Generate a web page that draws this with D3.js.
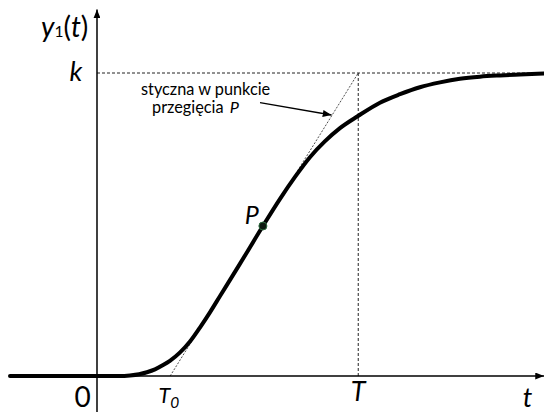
<!DOCTYPE html>
<html>
<head>
<meta charset="utf-8">
<script src="https://cdn.jsdelivr.net/npm/d3@7"></script>
<style>
  html, body { margin: 0; padding: 0; background: #fff; }
  svg { display: block; font-family: Lato, "Open Sans", sans-serif; }
</style>
</head>
<body>
<svg id="chart" width="544" height="412"></svg>
<script>
// Step response y1(t) of an inertial system with delay (time in arbitrary units, y normalised to k = 1)
const tVals = [-3.33, 0, 0.88, 1.26, 1.61, 1.91, 2.22, 2.53, 2.79, 3.18, 3.56, 3.94, 4.33, 4.71,
               5.47, 6.35, 7.00, 7.58, 8.15, 8.73, 9.30, 9.99, 10.83, 11.60, 12.36, 13.13,
               13.89, 14.66, 15.43, 16.19, 17.11];
const yVals = [0, 0, 0, 0.002, 0.006, 0.0125, 0.022, 0.036, 0.050, 0.078, 0.114, 0.160, 0.211, 0.264,
               0.370, 0.495, 0.584, 0.657, 0.722, 0.775, 0.818, 0.858, 0.902, 0.930, 0.953, 0.969,
               0.981, 0.988, 0.992, 0.995, 0.998];

// Inflection point and the times read from its tangent
const inflection = { t: 6.35, y: 0.495 };
const T0 = 2.8;
const T = 10;
const k = 1;

// Axis texts
const axisLabels = { origin: "0", level: "k", time: "t", tangentStart: "T", tangentEnd: "T" };
const tangentNote = ["styczna w punkcie", "przegięcia "];

const svg = d3.select("#chart");
const x = d3.scaleLinear().domain([-3.33, 17.11]).range([10, 544]);
const y = d3.scaleLinear().domain([0, 1]).range([376, 73]);

const data = tVals.map((t, i) => ({ t, v: yVals[i] }));

// Arrowheads
const defs = svg.append("defs");
defs.append("marker").attr("id", "axisArrow")
  .attr("viewBox", "0 0 10 8").attr("refX", 10).attr("refY", 4)
  .attr("markerUnits", "userSpaceOnUse").attr("markerWidth", 9).attr("markerHeight", 7)
  .attr("orient", "auto")
  .append("path").attr("d", "M0,0 L10,4 L0,8 Z").attr("fill", "#000");
defs.append("marker").attr("id", "noteArrow")
  .attr("viewBox", "0 0 10 8").attr("refX", 10).attr("refY", 4)
  .attr("markerUnits", "userSpaceOnUse").attr("markerWidth", 9).attr("markerHeight", 7)
  .attr("orient", "auto")
  .append("path").attr("d", "M0,0 L10,4 L0,8 Z").attr("fill", "#000");

// Reference lines: level k, time T and the tangent
const dash = { stroke: "#222", "stroke-width": 1, "stroke-dasharray": "3,2", fill: "none" };
function styled(sel, st) { Object.entries(st).forEach(([a, v]) => sel.attr(a, v)); return sel; }

styled(svg.append("line")
  .attr("x1", x(0)).attr("x2", x(17.11)).attr("y1", y(k)).attr("y2", y(k)), dash);
styled(svg.append("line")
  .attr("x1", x(T)).attr("x2", x(T)).attr("y1", y(k)).attr("y2", y(0)), dash);
svg.append("line")
  .attr("x1", x(T0)).attr("y1", y(0)).attr("x2", x(T)).attr("y2", y(k))
  .attr("stroke", "#222").attr("stroke-width", 0.8).attr("stroke-dasharray", "2,1.5");

// Axes
svg.append("line")
  .attr("x1", x(0)).attr("y1", y(0)).attr("x2", 544).attr("y2", y(0))
  .attr("stroke", "#000").attr("stroke-width", 1.5).attr("marker-end", "url(#axisArrow)");
svg.append("line")
  .attr("x1", x(0)).attr("y1", 412).attr("x2", x(0)).attr("y2", 9.5)
  .attr("stroke", "#000").attr("stroke-width", 1.5).attr("marker-end", "url(#axisArrow)");

// Response curve
svg.append("path").datum(data)
  .attr("d", d3.line().x(d => x(d.t)).y(d => y(d.v)).curve(d3.curveMonotoneX))
  .attr("fill", "none").attr("stroke", "#000").attr("stroke-width", 4)
  .attr("stroke-linecap", "round").attr("stroke-linejoin", "round");

// Inflection point P
svg.append("circle")
  .attr("cx", x(inflection.t)).attr("cy", y(inflection.y)).attr("r", 4)
  .attr("fill", "#0e1a10").attr("stroke", "#2e6b3f").attr("stroke-width", 1);
svg.append("text")
  .attr("x", x(inflection.t) - 11).attr("y", y(inflection.y) - 2.5)
  .attr("text-anchor", "middle").attr("font-size", 25).attr("font-style", "italic")
  .text("P");

// Axis labels
const big = 27;
const yLab = svg.append("text").attr("x", 41).attr("y", 36.5).attr("font-size", 28);
yLab.append("tspan").attr("font-style", "italic").text("y");
yLab.append("tspan").attr("font-size", 15.5).text("1");
yLab.append("tspan").text("(");
yLab.append("tspan").attr("font-style", "italic").text("t");
yLab.append("tspan").text(")");

svg.append("text").attr("x", 76).attr("y", 81).attr("text-anchor", "middle")
  .attr("font-size", big).attr("font-style", "italic").text(axisLabels.level);
svg.append("text").attr("x", 82.5).attr("y", 406.5).attr("text-anchor", "middle")
  .attr("font-size", 28).text(axisLabels.origin);
svg.append("text").attr("x", x(T)).attr("y", 401).attr("text-anchor", "middle")
  .attr("font-size", big).attr("font-style", "italic").text(axisLabels.tangentEnd);
svg.append("text").attr("x", 527.5).attr("y", 406.5).attr("text-anchor", "middle")
  .attr("font-size", big).attr("font-style", "italic").text(axisLabels.time);

const t0Lab = svg.append("text").attr("x", 158.5).attr("y", 403)
  .attr("font-size", 21.5).attr("font-style", "italic");
t0Lab.append("tspan").text(axisLabels.tangentStart);
t0Lab.append("tspan").attr("font-size", 15.5).attr("dy", 4.5).text("0");

// Tangent annotation
svg.append("text").attr("x", 141).attr("y", 95).attr("font-size", 16.3).text(tangentNote[0]);
const note2 = svg.append("text").attr("x", 152).attr("y", 113).attr("font-size", 16.3);
note2.append("tspan").text(tangentNote[1]);
note2.append("tspan").attr("font-style", "italic").attr("dx", 2).text("P");
svg.append("line")
  .attr("x1", 260).attr("y1", 102.7).attr("x2", 331.5).attr("y2", 115)
  .attr("stroke", "#000").attr("stroke-width", 1.3).attr("marker-end", "url(#noteArrow)");
</script>
</body>
</html>
